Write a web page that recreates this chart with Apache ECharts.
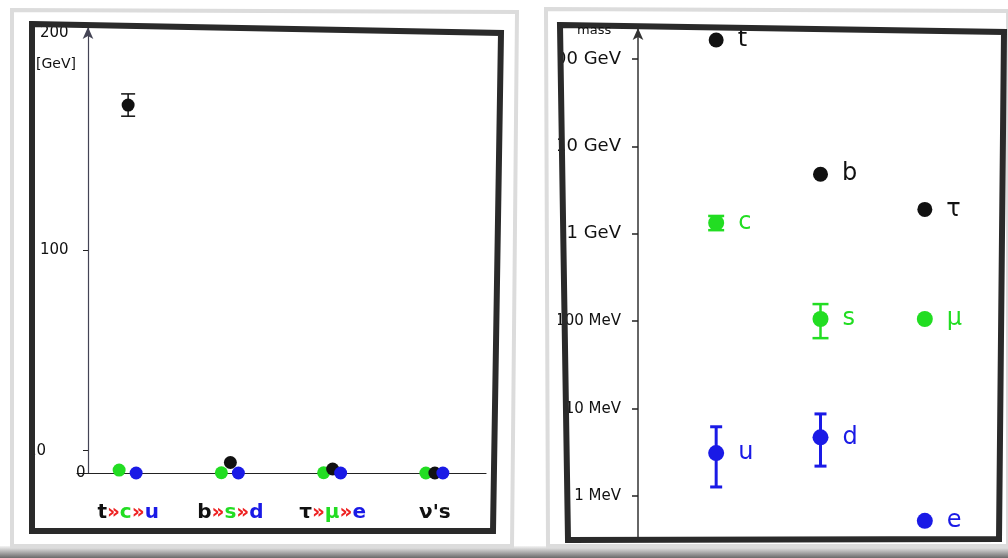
<!DOCTYPE html>
<html><head><meta charset="utf-8">
<script src="https://cdn.jsdelivr.net/npm/echarts@6/dist/echarts.min.js"></script>
<style>html,body{margin:0;padding:0;background:#fff}#c{width:1008px;height:558px}</style>
</head><body><div id="c"></div>
<script>
// ---- data ----
const groups = ['t»c»u', 'b»s»d', 'τ»μ»e', "ν's"];
const heavyNames = ['t', 'b', 'τ'];
const middleNames = ['c', 's', 'μ'];
const lightNames = ['u', 'd', 'e'];
// left panel (linear, GeV)
const heavyGeV = [165, 4.7, 1.8, 0];
const middleGeV = [1.3, 0.1, 0.1, 0];
const lightGeV = [0.003, 0.005, 0.0005, 0];
const heavyErrGeV = [[0, 160, 170]];
const linearTicks = [0, 10, 100, 200];
// right panel (log, MeV)
const logGroups = ['t c u', 'b s d', 'τ μ e'];
const heavyMeV = [165000, 4800, 1900];
const middleMeV = [1330, 106, 106];
const lightMeV = [3.1, 4.7, 0.52];
const middleErrMeV = [[0, 1100, 1600], [1, 64, 157]];
const lightErrMeV = [[0, 1.27, 6.2], [1, 2.2, 8.7]];

const BLACK = '#111', GREEN = '#22dd22', BLUE = '#1a1ae6', RED = '#ee2222';
const FONT = 'DejaVu Sans';

function errItem(color, cap, lw) {
  return function (params, api) {
    const x = api.value(0);
    const lo = api.coord([x, api.value(1)]);
    const hi = api.coord([x, api.value(2)]);
    const style = { stroke: color, lineWidth: lw };
    return { type: 'group', children: [
      { type: 'line', shape: { x1: lo[0], y1: lo[1], x2: hi[0], y2: hi[1] }, style },
      { type: 'line', shape: { x1: lo[0] - cap, y1: lo[1], x2: lo[0] + cap, y2: lo[1] }, style },
      { type: 'line', shape: { x1: hi[0] - cap, y1: hi[1], x2: hi[0] + cap, y2: hi[1] }, style }
    ] };
  };
}

function logLabel(v) {
  const r = Math.round(v * 1000) / 1000;
  return r >= 1000 ? '{g|' + Math.round(r / 1000) + ' GeV}' : '{m|' + r + ' MeV}';
}

const chart = echarts.init(document.getElementById('c'), null, { renderer: 'canvas' });

const option = {
  backgroundColor: '#fff',
  animation: false,
  grid: [
    { left: 77, width: 409, top: 27, height: 446 },
    { left: 664, width: 313, top: 28, height: 509 }
  ],
  xAxis: [
    {
      gridIndex: 0, type: 'category', data: groups,
      axisLine: { lineStyle: { color: '#222', width: 1.2 } },
      axisTick: { show: false },
      axisLabel: {
        interval: 0, margin: 30, fontFamily: FONT, fontSize: 20, fontWeight: 'bold',
        formatter: function (v, i) {
          if (i === 3) return '{k|' + v + '}';
          return '{k|' + heavyNames[i] + '}{r|»}{g|' + middleNames[i] + '}{r|»}{b|' + lightNames[i] + '}';
        },
        rich: {
          k: { color: BLACK, fontSize: 20, fontFamily: FONT, fontWeight: 'bold' },
          r: { color: RED, fontSize: 20, fontFamily: FONT, fontWeight: 'bold' },
          g: { color: GREEN, fontSize: 20, fontFamily: FONT, fontWeight: 'bold' },
          b: { color: BLUE, fontSize: 20, fontFamily: FONT, fontWeight: 'bold' }
        }
      },
      splitLine: { show: false }
    },
    {
      gridIndex: 1, type: 'category', data: logGroups,
      axisLine: { show: false }, axisTick: { show: false }, axisLabel: { show: false },
      splitLine: { show: false }
    }
  ],
  yAxis: [
    {
      gridIndex: 0, type: 'value', min: 0, max: 200, offset: -11,
      axisLine: { show: true, symbol: ['none', 'arrow'], symbolSize: [8, 12], lineStyle: { color: '#445', width: 1.2 } },
      axisTick: { show: true, length: 5, customValues: linearTicks, lineStyle: { color: '#222' } },
      axisLabel: {
        customValues: linearTicks, align: 'left', margin: 61, fontFamily: FONT,
        formatter: function (v) {
          if (v === 0) return '{z|0}';
          if (v === 10) return '{t|10}';
          if (v === 200) return '{p|200}';
          return '{h|' + v + '}';
        },
        rich: {
          z: { fontSize: 15, color: '#111', fontFamily: FONT, padding: [0, 0, 0, 49] },
          t: { fontSize: 15, color: '#111', fontFamily: FONT, padding: [0, 0, 0, 0] },
          h: { fontSize: 15, color: '#111', fontFamily: FONT, padding: [0, 0, 0, 13] },
          p: { fontSize: 15, color: '#111', fontFamily: FONT, padding: [12, 0, 0, 13] }
        }
      },
      splitLine: { show: false }
    },
    {
      gridIndex: 1, type: 'log', logBase: 10, min: 0.34, max: 226000, offset: 26,
      axisLine: { show: true, symbol: ['none', 'arrow'], symbolSize: [8, 12], lineStyle: { color: '#333', width: 1.5 } },
      axisTick: { show: true, length: 6, lineStyle: { color: '#222', width: 1.5 } },
      axisLabel: {
        margin: 17, formatter: logLabel, showMinLabel: false, showMaxLabel: false,
        rich: {
          g: { fontSize: 18, color: '#111', fontFamily: FONT },
          m: { fontSize: 15, color: '#111', fontFamily: FONT }
        }
      },
      splitLine: { show: false }
    }
  ],
  series: [
    // left panel
    { type: 'custom', xAxisIndex: 0, yAxisIndex: 0, renderItem: errItem(BLACK, 7, 1.5),
      encode: { x: 0, y: [1, 2] }, data: heavyErrGeV, z: 3 },
    { type: 'scatter', xAxisIndex: 0, yAxisIndex: 0, data: middleGeV, symbolSize: 13,
      symbolOffset: [-9, 0], itemStyle: { color: GREEN, opacity: 1 }, z: 4 },
    { type: 'scatter', xAxisIndex: 0, yAxisIndex: 0, data: heavyGeV, symbolSize: 13,
      itemStyle: { color: BLACK, opacity: 1 }, z: 5 },
    { type: 'scatter', xAxisIndex: 0, yAxisIndex: 0, data: lightGeV, symbolSize: 13,
      symbolOffset: [8, 0], itemStyle: { color: BLUE, opacity: 1 }, z: 6 },
    // right panel
    { type: 'custom', xAxisIndex: 1, yAxisIndex: 1, renderItem: errItem(GREEN, 8, 2.5),
      encode: { x: 0, y: [1, 2] }, data: middleErrMeV, z: 3 },
    { type: 'custom', xAxisIndex: 1, yAxisIndex: 1, renderItem: errItem(BLUE, 6, 3),
      encode: { x: 0, y: [1, 2] }, data: lightErrMeV, z: 3 },
    { type: 'scatter', xAxisIndex: 1, yAxisIndex: 1, data: heavyMeV, symbolSize: 15,
      itemStyle: { color: BLACK, opacity: 1 }, z: 5,
      label: { show: true, position: 'right', distance: 14, fontSize: 24, fontFamily: FONT, color: BLACK,
        formatter: p => heavyNames[p.dataIndex] } },
    { type: 'scatter', xAxisIndex: 1, yAxisIndex: 1, data: middleMeV, symbolSize: 16,
      itemStyle: { color: GREEN, opacity: 1 }, z: 5,
      label: { show: true, position: 'right', distance: 14, fontSize: 24, fontFamily: FONT, color: GREEN,
        formatter: p => middleNames[p.dataIndex] } },
    { type: 'scatter', xAxisIndex: 1, yAxisIndex: 1, data: lightMeV, symbolSize: 16,
      itemStyle: { color: BLUE, opacity: 1 }, z: 5,
      label: { show: true, position: 'right', distance: 14, fontSize: 24, fontFamily: FONT, color: BLUE,
        formatter: p => lightNames[p.dataIndex] } }
  ],
  graphic: [
    // white covers outside the dark frames
    { type: 'rect', z: 98, shape: { x: 0, y: 0, width: 29, height: 558 }, style: { fill: '#fff' } },
    { type: 'rect', z: 98, shape: { x: 503, y: 0, width: 55, height: 558 }, style: { fill: '#fff' } },
    // bottom shadow
    { type: 'rect', z: 99, shape: { x: 0, y: 546, width: 1008, height: 12 },
      style: { fill: new echarts.graphic.LinearGradient(0, 0, 0, 1, [{ offset: 0, color: '#f4f4f4' }, { offset: 1, color: '#6a6a6a' }]) } },
    // light outer frames
    { type: 'polygon', z: 99, shape: { points: [[12, 10], [517, 12], [512, 546], [12, 546]] },
      style: { fill: 'none', stroke: '#dcdcdc', lineWidth: 4 } },
    { type: 'polygon', z: 99, shape: { points: [[546, 9], [1008, 11], [1008, 546], [548, 546]] },
      style: { fill: 'none', stroke: '#dcdcdc', lineWidth: 4 } },
    // dark inner frames
    { type: 'polygon', z: 100, shape: { points: [[32, 24], [501, 33], [493, 531], [32, 531]] },
      style: { fill: 'none', stroke: '#2a2a2a', lineWidth: 6 } },
    { type: 'polygon', z: 100, shape: { points: [[560, 25], [1004, 32], [999, 539], [568, 540]] },
      style: { fill: 'none', stroke: '#2a2a2a', lineWidth: 6 } },
    // axis unit texts
    { type: 'text', z: 101, left: 36, top: 57, style: { text: '[GeV]', fontSize: 14, fontFamily: FONT, fill: '#111' } },
    { type: 'text', z: 101, left: 577, top: 24, style: { text: 'mass', fontSize: 13, fontFamily: FONT, fill: '#111' } }
  ]
};
chart.setOption(option);
</script>
</body></html>
